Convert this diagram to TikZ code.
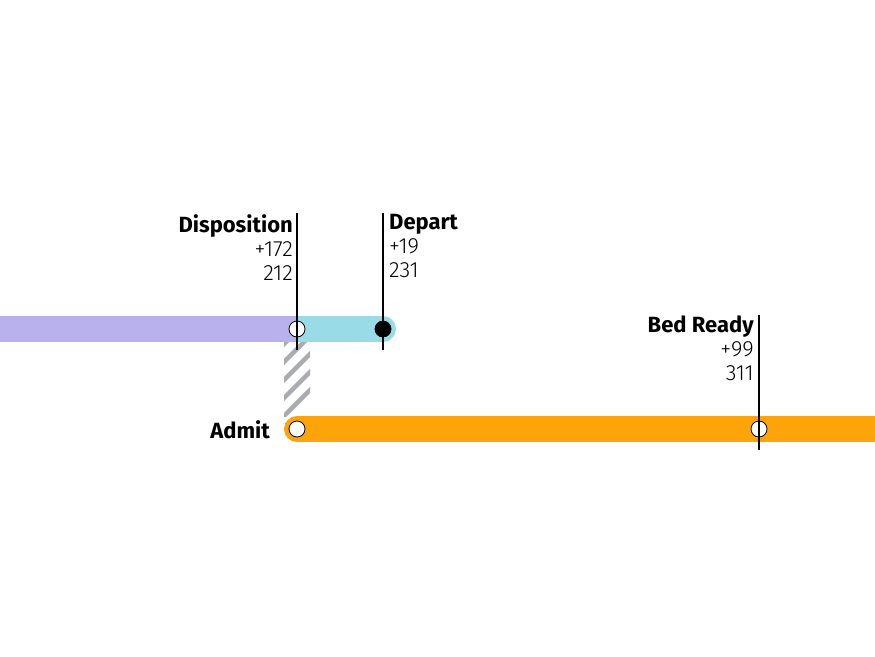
\documentclass[tikz,border=0pt]{standalone}
\usepackage{fontspec}
\setmainfont{Fira Sans}
\newfontfamily\lightfont{Fira Sans Light}
\usetikzlibrary{positioning}
\tikzset{
  bar/.style={line width=26pt},
  stop/.style={draw, thick, circle, fill=white, inner sep=0pt, minimum size=16pt},
  tick/.style={draw, line width=1.2pt},
  label/.style={inner sep=0pt, font=\fontsize{22}{24}\selectfont}
}
\definecolor{lav}{HTML}{B9B0EE}
\definecolor{sky}{HTML}{9ADBE8}
\definecolor{amber}{HTML}{FCA40A}
\definecolor{hatch}{HTML}{A8ABB0}
\begin{document}
\begin{tikzpicture}[x=1pt, y=-1pt]
    \useasboundingbox (0,0) rectangle (875,656);
    % bars
    \draw[bar, sky, line cap=round] (297,329) -- (383,329);
    \draw[bar, lav] (0,329) -- (297,329);
    \draw[bar, amber, line cap=round] (297,429) -- (862,429);
    \fill[amber] (800,416) rectangle (875,442);
    % hatched link
    \begin{scope}
        \clip (284,342) rectangle (310,416);
        \foreach \k in {0,...,9}
            \draw[hatch, line width=4.5pt] (270,430-18*\k) -- (330,370-18*\k);
    \end{scope}
    % stops
    \node[stop] (disp) at (297,329) {};
    \node[stop, fill=black] (dep) at (383,329) {};
    \node[stop] (adm) at (297,429) {};
    \node[stop] (bed) at (759,429) {};
    % ticks
    \coordinate (dispTop) at (297,213);
    \coordinate (depTop) at (383,213);
    \coordinate (bedTop) at (759,315);
    \draw[tick] (dispTop) -- ([yshift=-21pt]disp.center);
    \draw[tick] (depTop) -- ([yshift=-21pt]dep.center);
    \draw[tick] (bedTop) -- ([yshift=-21pt]bed.center);
    % labels
    \node[label, anchor=north east, align=right] (dispLab) at (293,214)
        {\textbf{Disposition}\\{\lightfont +172}\\{\lightfont 212}};
    \node[label, anchor=north west, align=left] (depLab) at (389,214)
        {\textbf{Depart}\\{\lightfont +19}\\{\lightfont 231}};
    \node[label, anchor=north east, align=right] (bedLab) at (754,316)
        {\textbf{Bed Ready}\\{\lightfont +99}\\{\lightfont 311}};
    \node[label, anchor=east, font=\fontsize{22}{24}\bfseries] (admLab) at (270,430) {Admit};
\end{tikzpicture}
\end{document}
